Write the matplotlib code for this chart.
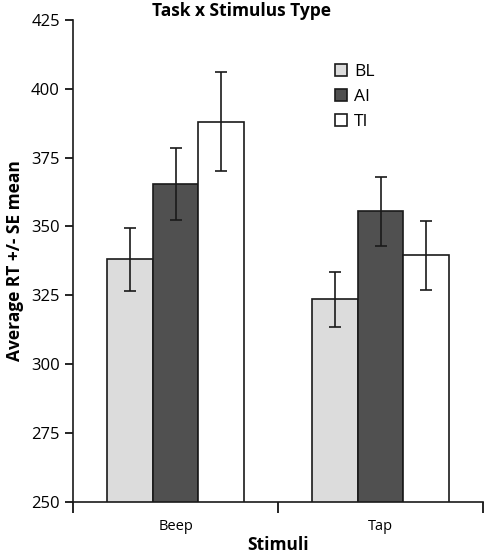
import numpy as np
from matplotlib import pyplot as plt

plt.rcParams['font.family'] = ['Open Sans', 'DejaVu Sans']

stimuli = ['Beep', 'Tap']
conditions = ['BL', 'AI', 'TI']
means = {
    'BL': [338, 323.5],
    'AI': [365.5, 355.5],
    'TI': [388, 339.5],
}
errors = {
    'BL': [11.5, 10],
    'AI': [13, 12.5],
    'TI': [18, 12.5],
}
colors = {'BL': '#dcdcdc', 'AI': '#505050', 'TI': '#ffffff'}

fig = plt.figure(figsize=(4.84, 5.55), dpi=100)
ax = fig.add_axes([0.151, 0.0955, 0.847, 0.869])

centers = np.array([0.5, 1.5])
width = 0.222
for i, cond in enumerate(conditions):
    x = centers + (i - 1) * width
    ax.bar(x, means[cond], width=width, color=colors[cond], edgecolor='#1a1a1a',
           linewidth=1.2, label=cond, zorder=2)
    ax.errorbar(x, means[cond], yerr=errors[cond], fmt='none', ecolor='#1a1a1a',
                elinewidth=1.2, capsize=4, capthick=1.2, zorder=3)

ax.set_xlim(0, 2)
ax.set_ylim(250, 425)
ax.set_yticks(np.arange(250, 426, 25))
ax.set_xticks([0, 1, 2])
ax.set_xticklabels([])
ax.set_xticks(centers, minor=True)
ax.set_xticklabels(stimuli, minor=True)
ax.tick_params(axis='x', which='major', length=8, width=1.2, direction='out')
ax.tick_params(axis='x', which='minor', length=0, pad=12, labelsize=10.5)
ax.tick_params(axis='y', length=6, width=1.2, labelsize=12)

for s in ['top', 'right']:
    ax.spines[s].set_visible(False)
for s in ['left', 'bottom']:
    ax.spines[s].set_linewidth(1.2)
    ax.spines[s].set_color('#1a1a1a')

ax.set_xlabel('Stimuli', fontsize=12.5, fontweight='bold', labelpad=2)
ax.set_ylabel('Average RT +/- SE mean', fontsize=12.5, fontweight='bold', labelpad=5)
fig.text(0.5, 0.997, 'Task x Stimulus Type', ha='center', va='top',
         fontsize=12.5, fontweight='bold')

ax.legend(loc='upper left', bbox_to_anchor=(0.6, 0.94), frameon=False,
          fontsize=12.5, handlelength=0.7, handleheight=0.7, handletextpad=0.4,
          labelspacing=0.5)

fig.savefig('out.png', dpi=100)
